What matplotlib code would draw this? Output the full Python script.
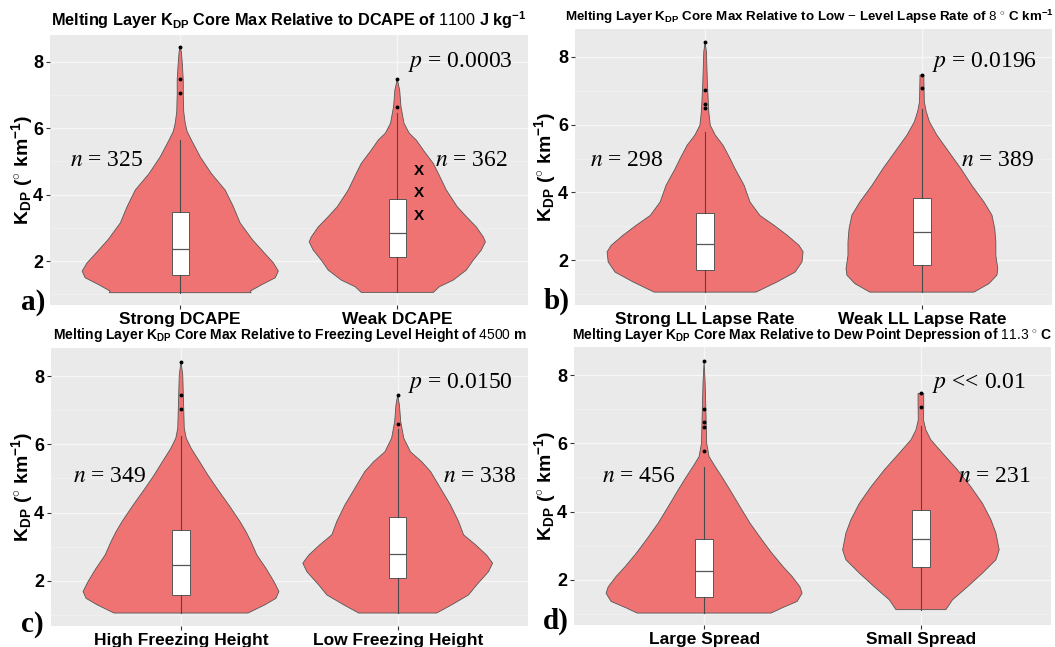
import matplotlib
matplotlib.use("Agg")
import matplotlib.pyplot as plt
import numpy as np

plt.rcParams['font.family'] = ['Liberation Sans', 'DejaVu Sans']
plt.rcParams['mathtext.fontset'] = 'custom'
plt.rcParams['mathtext.rm'] = 'Liberation Sans'
plt.rcParams['mathtext.bf'] = 'Liberation Sans:bold'
plt.rcParams['mathtext.it'] = 'Liberation Sans:italic'

# ---------------- data ----------------
titles = [
    r"Melting Layer K$_{\mathbf{DP}}$ Core Max Relative to DCAPE of $\mathrm{1100}$ J kg$^{\mathbf{-1}}$",
    r"Melting Layer K$_{\mathbf{DP}}$ Core Max Relative to Low $\mathrm{-}$ Level Lapse Rate of $\mathrm{8\ ^{\circ}}$ C km$^{\mathbf{-1}}$",
    r"Melting Layer K$_{\mathbf{DP}}$ Core Max Relative to Freezing Level Height of $\mathrm{4500}$ m",
    r"Melting Layer K$_{\mathbf{DP}}$ Core Max Relative to Dew Point Depression of $\mathrm{11.3\ ^{\circ}}$ C",
]
panel_letters = ["a)", "b)", "c)", "d)"]
categories = [
    ["Strong DCAPE", "Weak DCAPE"],
    ["Strong LL Lapse Rate", "Weak LL Lapse Rate"],
    ["High Freezing Height", "Low Freezing Height"],
    ["Large Spread", "Small Spread"],
]
n_counts = [[325, 362], [298, 389], [349, 338], [456, 231]]
p_labels = [r"$p$ = 0.0003", r"$p$ = 0.0196", r"$p$ = 0.0150", r"$p$ << 0.01"]

# violin outlines: K_DP levels and half-widths (category units)
a1_lev = [1.05, 1.10, 1.30, 1.50, 1.70, 1.95, 2.25, 2.65, 3.15, 3.65, 4.14, 4.35, 4.64, 5.14, 5.65, 5.90, 6.15, 6.50, 7.00, 7.45, 8.00, 8.30, 8.45]
a1_hw = [0.327, 0.323, 0.378, 0.438, 0.452, 0.429, 0.387, 0.332, 0.276, 0.244, 0.207, 0.180, 0.143, 0.092, 0.051, 0.032, 0.023, 0.016, 0.014, 0.014, 0.009, 0.005, 0.0]
a2_lev = [1.06, 1.23, 1.43, 1.73, 2.03, 2.33, 2.58, 2.73, 3.03, 3.34, 3.64, 4.14, 4.64, 4.94, 5.34, 5.64, 5.85, 6.15, 6.65, 7.15, 7.47]
a2_hw = [0.166, 0.194, 0.258, 0.318, 0.350, 0.387, 0.406, 0.396, 0.364, 0.318, 0.276, 0.226, 0.189, 0.166, 0.120, 0.088, 0.055, 0.031, 0.017, 0.011, 0.0]
b1_lev = [1.06, 1.36, 1.65, 1.95, 2.25, 2.44, 2.74, 3.03, 3.32, 3.72, 4.21, 4.70, 5.00, 5.39, 5.69, 5.98, 6.38, 7.16, 8.15, 8.44]
b1_hw = [0.235, 0.332, 0.415, 0.447, 0.452, 0.433, 0.378, 0.318, 0.253, 0.207, 0.180, 0.138, 0.115, 0.083, 0.047, 0.024, 0.017, 0.011, 0.006, 0.0]
b2_lev = [1.06, 1.31, 1.56, 1.75, 2.14, 2.54, 2.93, 3.33, 3.72, 4.21, 4.70, 5.20, 5.69, 6.08, 6.38, 6.67, 7.36, 7.46]
b2_hw = [0.240, 0.309, 0.346, 0.350, 0.341, 0.341, 0.336, 0.323, 0.286, 0.230, 0.180, 0.124, 0.069, 0.035, 0.020, 0.011, 0.009, 0.009]
c1_lev = [1.06, 1.30, 1.49, 1.69, 1.98, 2.37, 2.76, 3.15, 3.44, 3.74, 4.22, 4.71, 5.10, 5.49, 5.88, 6.18, 6.47, 7.15, 8.03, 8.42]
c1_hw = [0.309, 0.387, 0.438, 0.452, 0.429, 0.392, 0.350, 0.323, 0.300, 0.272, 0.221, 0.166, 0.124, 0.086, 0.047, 0.024, 0.015, 0.012, 0.008, 0.0]
c2_lev = [1.06, 1.30, 1.59, 1.88, 2.27, 2.52, 2.76, 3.06, 3.35, 3.74, 4.22, 4.71, 5.20, 5.49, 5.78, 6.18, 6.66, 7.15, 7.44]
c2_hw = [0.180, 0.249, 0.327, 0.364, 0.419, 0.438, 0.410, 0.359, 0.304, 0.281, 0.244, 0.198, 0.152, 0.111, 0.059, 0.028, 0.014, 0.008, 0.0]
d1_lev = [1.03, 1.18, 1.37, 1.61, 1.80, 2.10, 2.39, 2.78, 3.17, 3.66, 4.14, 4.63, 5.02, 5.32, 5.61, 6.00, 6.78, 7.76, 8.41]
d1_hw = [0.309, 0.359, 0.429, 0.452, 0.442, 0.406, 0.364, 0.313, 0.267, 0.212, 0.166, 0.120, 0.082, 0.051, 0.023, 0.012, 0.009, 0.005, 0.0]
d2_lev = [1.13, 1.42, 1.80, 2.20, 2.59, 2.88, 3.37, 3.76, 4.24, 4.73, 5.22, 5.71, 6.10, 6.39, 6.68, 7.10, 7.46]
d2_hw = [0.115, 0.146, 0.215, 0.284, 0.346, 0.361, 0.346, 0.323, 0.284, 0.230, 0.169, 0.100, 0.046, 0.023, 0.012, 0.013, 0.013]

violin_levels = [[a1_lev, a2_lev], [b1_lev, b2_lev], [c1_lev, c2_lev], [d1_lev, d2_lev]]
violin_widths = [[a1_hw, a2_hw], [b1_hw, b2_hw], [c1_hw, c2_hw], [d1_hw, d2_hw]]

# box statistics: q1, median, q3, whisker low, whisker high
box_q1 = [[1.57, 2.13], [1.72, 1.85], [1.59, 2.10], [1.51, 2.37]]
box_med = [[2.38, 2.85], [2.47, 2.83], [2.47, 2.78], [2.27, 3.19]]
box_q3 = [[3.49, 3.86], [3.40, 3.85], [3.49, 3.86], [3.20, 4.05]]
whisk_lo = [[1.05, 1.06], [1.06, 1.06], [1.06, 1.06], [1.03, 1.13]]
whisk_hi = [[5.65, 6.45], [5.79, 6.45], [6.25, 6.45], [5.30, 6.50]]
outliers = [
    [[7.05, 7.47, 8.45], [6.65, 7.47]],
    [[6.49, 6.62, 7.02, 8.44], [7.07, 7.46]],
    [[7.02, 7.44, 8.42], [6.60, 7.44]],
    [[5.78, 6.47, 6.62, 7.00, 8.41], [7.05, 7.46]],
]
x_marks = [4.72, 4.04, 3.36]  # "X" markers, panel a, weak DCAPE

# annotation positions (data coords)
n_pos = [[(0.66, 5.04), (2.34, 5.04)], [(0.64, 4.93), (2.35, 4.93)],
         [(0.67, 5.05), (2.38, 5.05)], [(0.70, 5.02), (2.34, 5.02)]]
p_pos = [(2.29, 8.0), (2.29, 7.86), (2.29, 7.80), (2.27, 7.77)]

# ---------------- layout (pixels) ----------------
W, H = 1055, 647
axes_px = [  # left, right, top, bottom
    (50, 527.5, 34.5, 305),
    (575, 1052, 29, 305),
    (51, 527.7, 348, 626),
    (574, 1051, 347, 625),
]
title_px = [(289, 20, 11.7), (809, 17, 9.6), (290, 335, 10.0), (812, 335, 10.0)]
letter_px = [(33, 302), (557, 301), (32, 624), (556, 621)]
ylabel_x = [22, 545, 22, 545]

VCOL = '#F07373'
ECOL = '#555555'

fig = plt.figure(figsize=(W / 100, H / 100), dpi=100)
fig.patch.set_facecolor('white')

for i in range(4):
    l, r, t, b = axes_px[i]
    ax = fig.add_axes([l / W, 1 - b / H, (r - l) / W, (b - t) / H])
    ax.set_facecolor('#EAEAEA')
    for s in ax.spines.values():
        s.set_visible(False)
    ax.set_xlim(0.4, 2.6)
    ax.set_ylim(0.68, 8.82)
    ax.set_yticks([2, 4, 6, 8])
    ax.set_yticks([1, 3, 5, 7], minor=True)
    ax.set_xticks([1, 2])
    ax.set_xticklabels(categories[i], fontweight='bold', fontsize=12.5)
    ax.set_yticklabels(['2', '4', '6', '8'], fontweight='bold', fontsize=13)
    ax.tick_params(axis='both', which='major', length=3, width=0.8, color='#333333', pad=2)
    ax.tick_params(axis='y', which='minor', length=0)
    ax.grid(which='major', color='#F6F6F6', lw=1.0, zorder=0)
    ax.grid(which='minor', axis='y', color='#F2F2F2', lw=0.5, zorder=0)
    ax.set_axisbelow(True)

    for j in range(2):
        pos = j + 1
        lev = np.asarray(violin_levels[i][j])
        hw = np.asarray(violin_widths[i][j])
        xs = np.concatenate([pos - hw, (pos + hw)[::-1]])
        ys = np.concatenate([lev, lev[::-1]])
        ax.fill(xs, ys, facecolor=VCOL, edgecolor=ECOL, lw=0.6, zorder=2)
        stats = [dict(med=box_med[i][j], q1=box_q1[i][j], q3=box_q3[i][j],
                      whislo=whisk_lo[i][j], whishi=whisk_hi[i][j],
                      fliers=outliers[i][j])]
        ax.bxp(stats, positions=[pos], widths=0.08, patch_artist=True,
               showcaps=False, manage_ticks=False, zorder=3,
               boxprops=dict(facecolor='white', edgecolor=ECOL, lw=0.7),
               medianprops=dict(color=ECOL, lw=0.9),
               whiskerprops=dict(color='#4A4A4A', lw=0.8),
               flierprops=dict(marker='o', markersize=1.8, markerfacecolor='black',
                               markeredgecolor='black'))
        ax.text(n_pos[i][j][0], n_pos[i][j][1], r"$n$ = %d" % n_counts[i][j],
                fontsize=17, family='Liberation Serif', math_fontfamily='stix',
                ha='center', va='center', zorder=6)
    ax.text(p_pos[i][0], p_pos[i][1], p_labels[i], fontsize=17,
            family='Liberation Serif', math_fontfamily='stix',
            ha='center', va='center', zorder=6)
    if i == 0:
        for yv in x_marks:
            ax.text(2.10, yv, "X", fontsize=11, fontweight='bold', ha='center',
                    va='center', color='black', zorder=6)

    tx, ty, tfs = title_px[i]
    fig.text(tx / W, 1 - ty / H, titles[i], fontsize=tfs, fontweight='bold',
             ha='center', va='center')
    fig.text(ylabel_x[i] / W, 1 - ((t + b) / 2) / H,
             r"K$_{\mathbf{DP}}$ ($^{\circ}$ km$^{\mathbf{-1}}$)",
             rotation=90, fontsize=14, fontweight='bold', ha='center', va='center')
    lx, ly = letter_px[i]
    fig.text(lx / W, 1 - ly / H, panel_letters[i], fontsize=21, fontweight='bold',
             family='Liberation Serif', ha='center', va='center')

fig.savefig("out.png", dpi=100)
